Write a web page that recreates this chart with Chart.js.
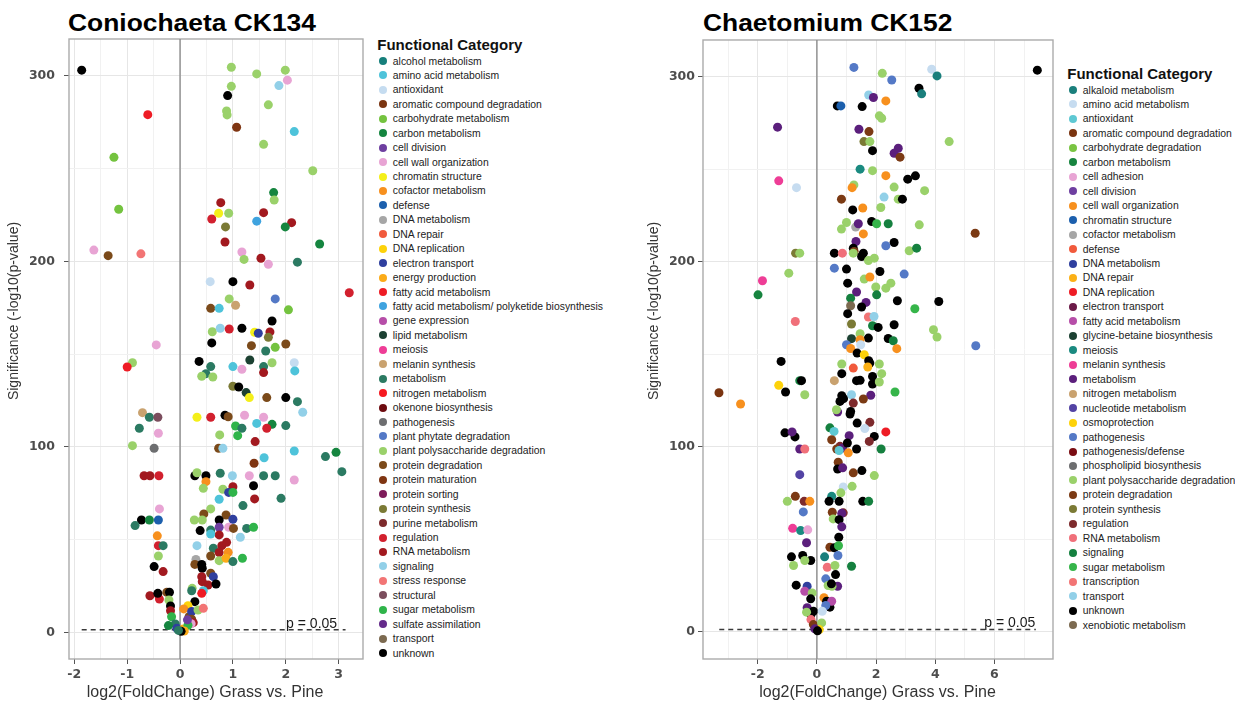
<!DOCTYPE html>
<html>
<head>
<meta charset="utf-8">
<script src="https://cdn.jsdelivr.net/npm/chart.js@4.4.1/dist/chart.umd.min.js"></script>
<style>
body { margin: 0; background: #fff; width: 1235px; height: 702px; overflow: hidden; position: relative; font-family: 'Liberation Sans', Arial, sans-serif; }
canvas { position: absolute; top: 0; }
.title { position: absolute; top: 11px; font-weight: bold; font-size: 24px; line-height: 1; color: #000; transform: scaleX(1.1); transform-origin: left; white-space: nowrap; }
.legend-title { position: absolute; font-weight: bold; font-size: 15px; line-height: 1; color: #111; white-space: nowrap; }
.item { position: absolute; height: 14px; display: flex; align-items: center; font-size: 10.4px; color: #222; white-space: nowrap; }
.dot { width: 8px; height: 8px; border-radius: 50%; margin-right: 5.5px; flex: none; }
</style>
</head>
<body>
<div class="title" style="left:68px">Coniochaeta CK134</div>
<div class="title" style="left:703px">Chaetomium CK152</div>
<canvas id="coniChart" width="370" height="702" style="left:0px"></canvas>
<canvas id="chaeChart" width="440" height="702" style="left:620px"></canvas>
<div id="coniLegend"></div>
<div id="chaeLegend"></div>
<script>
const yTicks = [0, 50, 100, 150, 200, 250, 300];
const yLabels = [0, 100, 200, 300];
const coniXTicks = [-2, -1.5, -1, -0.5, 0, 0.5, 1, 1.5, 2, 2.5, 3];
const coniXLabels = [-2, -1, 0, 1, 2, 3];
const chaeXTicks = [-3, -2, -1, 0, 1, 2, 3, 4, 5, 6, 7];
const chaeXLabels = [-2, 0, 2, 4, 6];
const pCutoff = 1.301;

const coniCategories = ['alcohol metabolism', 'amino acid metabolism', 'antioxidant', 'aromatic compound degradation',
    'carbohydrate metabolism', 'carbon metabolism', 'cell division', 'cell wall organization', 'chromatin structure',
    'cofactor metabolism', 'defense', 'DNA metabolism', 'DNA repair', 'DNA replication', 'electron transport',
    'energy production', 'fatty acid metabolism', 'fatty acid metabolism/ polyketide biosynthesis', 'gene expression',
    'lipid metabolism', 'meiosis', 'melanin synthesis', 'metabolism', 'nitrogen metabolism', 'okenone biosynthesis',
    'pathogenesis', 'plant phytate degradation', 'plant polysaccharide degradation', 'protein degradation',
    'protein maturation', 'protein sorting', 'protein synthesis', 'purine metabolism', 'regulation', 'RNA metabolism',
    'signaling', 'stress response', 'structural', 'sugar metabolism', 'sulfate assimilation', 'transport', 'unknown'];
const coniColors = ['#167f7b', '#4ec3da', '#c5dcf0', '#7a3410', '#74c33f', '#15853f', '#6e3fa0', '#e8a4d4', '#f4ef1a',
    '#f7901e', '#1c5fad', '#a6a6a6', '#f15a3c', '#fdd20a', '#2f3f9e', '#fbab18', '#ee1c25', '#3fa3df', '#b64ea8',
    '#1c4132', '#ee3d96', '#c9a26f', '#2b7a62', '#f51920', '#6d0b10', '#6d6e70', '#5479c6', '#9ad16a', '#7b4a1a',
    '#7f3512', '#7e1c5a', '#7b7a35', '#7d2a2c', '#d2202e', '#a2191f', '#92d0e8', '#f27575', '#7b4d5d', '#2fb44a',
    '#642a8a', '#7c6a50', '#000000'];

// [log2FC, -log10(p), category index]
const coniPoints = [
    [-1.86, 303, 41], [-0.61, 279, 16], [-1.25, 256, 4], [0.97, 304.6, 27], [1.45, 301, 27], [1.99, 303, 27],
    [1.87, 294.7, 35], [2.03, 297.6, 7], [0.97, 294.3, 27], [0.90, 289.3, 41], [1.67, 284.3, 27], [0.88, 281, 27],
    [0.89, 278.9, 27], [1.07, 272.2, 29], [2.16, 269.9, 1], [1.58, 263, 27], [2.51, 248.8, 27], [1.77, 237, 5],
    [1.78, 233, 27], [-1.16, 228, 4], [0.77, 231.6, 34], [0.73, 225.9, 8], [0.92, 225.9, 27], [0.60, 222.8, 33],
    [1.58, 226.2, 34], [1.45, 221.6, 17], [2.11, 220.8, 34], [1.99, 218.5, 5], [0.86, 218.5, 31], [0.85, 210.4, 34],
    [2.64, 209.3, 5], [-1.63, 206, 7], [-1.36, 203, 28], [-0.74, 204, 36], [1.17, 205, 7], [1.21, 201, 27],
    [1.53, 201.6, 34], [1.67, 198.4, 7], [2.22, 199.5, 22], [0.57, 189, 2], [1.0, 189, 41], [1.32, 187.2, 34],
    [3.20, 183, 33], [0.93, 179.7, 27], [1.80, 179.7, 26], [0.58, 174.6, 28], [0.74, 174.6, 1], [1.05, 176.3, 21],
    [2.05, 173.8, 4], [1.74, 167.8, 41], [0.61, 162, 27], [0.76, 163.9, 35], [0.93, 163.5, 33], [1.17, 163.9, 41],
    [1.41, 161.7, 8], [1.48, 161.2, 14], [1.70, 161.9, 34], [1.67, 159, 31], [0.60, 156, 41], [1.35, 154.5, 28],
    [1.80, 153.6, 4], [2.0, 155.4, 28], [-0.45, 154.9, 7], [1.62, 151.6, 22], [0.36, 146, 41], [0.58, 143.2, 22],
    [1.32, 146.8, 19], [1.0, 143.2, 1], [1.17, 141.8, 7], [1.58, 143.2, 22], [1.58, 140, 34], [1.74, 145.3, 27],
    [2.16, 145.3, 2], [2.17, 140.9, 1], [-0.90, 145.3, 27], [-1.0, 143, 16], [0.49, 139.4, 22], [0.41, 138, 27],
    [0.62, 137.6, 27], [1.0, 132.6, 31], [1.11, 132.2, 41], [1.25, 129.2, 19], [1.31, 126.5, 8], [1.64, 126.5, 28],
    [2.0, 126.5, 41], [2.22, 124.3, 22], [2.32, 118.6, 35], [-0.71, 118.4, 21], [-0.58, 115.9, 22], [-0.42, 115.9, 37],
    [0.32, 115.9, 8], [0.58, 115.9, 33], [0.85, 117, 41], [0.91, 116.2, 28], [1.22, 117, 7], [1.58, 115.9, 7],
    [1.45, 112.6, 1], [1.74, 112.1, 5], [2.0, 111.4, 22], [-0.77, 110, 22], [1.05, 111.2, 38], [1.17, 110, 22],
    [1.64, 110, 33], [-0.41, 107.3, 7], [-0.90, 100.6, 27], [-0.49, 99.2, 25], [0.75, 106.4, 27], [1.09, 106, 38],
    [1.42, 102.8, 34], [0.73, 99.2, 28], [0.81, 99.2, 35], [1.59, 94.1, 1], [2.16, 97.7, 1], [2.75, 94.7, 22],
    [2.95, 97, 5], [3.06, 86.6, 22], [1.40, 91.1, 29], [-0.68, 84.4, 34], [-0.57, 84.4, 34], [-0.40, 84.4, 33],
    [0.28, 84.4, 41], [0.32, 86, 27], [0.49, 84.4, 41], [0.49, 81.2, 9], [0.44, 77.6, 27], [0.76, 85.7, 22],
    [0.99, 84.4, 35], [1.31, 84.4, 7], [1.58, 84.4, 22], [1.80, 84.4, 22], [2.16, 82.1, 7], [0.81, 77.1, 27],
    [1.0, 78.5, 34], [1.39, 79, 41], [0.92, 75.4, 14], [1.0, 75.4, 38], [0.74, 71.7, 1], [1.41, 71.9, 34],
    [1.91, 72.2, 22], [1.19, 68.3, 22], [0.58, 66.5, 27], [-0.39, 66.5, 7], [0.45, 63.8, 28], [0.87, 63.2, 28],
    [-0.73, 60.5, 41], [-0.58, 60.5, 5], [-0.41, 60.5, 10], [-0.85, 57.5, 22], [0.27, 60.5, 27], [0.42, 60.5, 27],
    [0.74, 60.5, 41], [1.0, 60.9, 14], [0.38, 54.8, 41], [0.58, 55.1, 22], [0.74, 56.6, 6], [0.92, 56.6, 7],
    [1.01, 56, 28], [1.26, 56, 22], [1.39, 56.6, 38], [0.74, 52.5, 34], [1.14, 51.2, 35], [0.58, 53, 1],
    [-0.43, 52, 9], [-0.41, 46.7, 33], [-0.32, 46.7, 22], [-0.41, 41.1, 27], [0.32, 46.7, 35], [0.63, 45.3, 22],
    [0.79, 46.7, 34], [0.88, 48.5, 34], [0.74, 43, 34], [0.58, 41.1, 28], [0.91, 43.1, 9], [0.74, 38.6, 27],
    [0.87, 39.9, 15], [1.0, 38.1, 22], [1.18, 39.9, 38], [0.30, 39.3, 11], [0.28, 36.6, 28], [0.41, 36.6, 41],
    [0.42, 34.5, 41], [-0.49, 35.4, 41], [-0.32, 32.7, 34], [0.41, 30, 34], [0.42, 27.3, 34], [0.53, 25.5, 34],
    [0.58, 31.8, 28], [0.63, 30, 14], [0.68, 26, 41], [0.44, 22.4, 1], [0.41, 21, 16], [0.23, 23.7, 27],
    [0.22, 22.4, 22], [-0.57, 19.7, 34], [-0.42, 20.6, 34], [-0.39, 17.9, 33], [-0.42, 21, 41], [-0.25, 21.6, 28],
    [-0.20, 21.6, 41], [-0.21, 17.4, 27], [-0.18, 14.2, 41], [-0.18, 11.6, 34], [-0.16, 8.4, 38], [-0.09, 4.5, 22],
    [-0.22, 3.6, 5], [-0.06, 2.2, 14], [0.06, 1.8, 15], [0.28, 16.5, 41], [0.15, 14.3, 13], [0.07, 12.6, 9],
    [0.17, 8.4, 28], [0.22, 11.2, 14], [0.34, 12, 27], [0.22, 7, 28], [0.25, 5.2, 34], [0.21, 4.6, 7],
    [0.44, 12.9, 36], [0.15, 3.8, 38], [0.14, 6.7, 6], [0.08, 0.7, 15], [0.02, 0.5, 41], [-0.03, 1, 22]
];

const chaeCategories = ['alkaloid metabolism', 'amino acid metabolism', 'antioxidant', 'aromatic compound degradation',
    'carbohydrate degradation', 'carbon metabolism', 'cell adhesion', 'cell division', 'cell wall organization',
    'chromatin structure', 'cofactor metabolism', 'defense', 'DNA metabolism', 'DNA repair', 'DNA replication',
    'electron transport', 'fatty acid metabolism', 'glycine-betaine biosynthesis', 'meiosis', 'melanin synthesis',
    'metabolism', 'nitrogen metabolism', 'nucleotide metabolism', 'osmoprotection', 'pathogenesis',
    'pathogenesis/defense', 'phospholipid biosynthesis', 'plant polysaccharide degradation', 'protein degradation',
    'protein synthesis', 'regulation', 'RNA metabolism', 'signaling', 'sugar metabolism', 'transcription',
    'transport', 'unknown', 'xenobiotic metabolism'];
const chaeColors = ['#1a7f7c', '#c6dcf0', '#5ec8d3', '#7a3410', '#79c442', '#17843f', '#e8a4d4', '#6e3fa0', '#f7901e',
    '#1c5fad', '#a6a6a6', '#f15a3c', '#2f3f9e', '#fbb016', '#ee1c25', '#6b1a48', '#b64ea8', '#1c4132', '#1a8a80',
    '#ee3d96', '#5b1f7c', '#c9a26f', '#5343a4', '#fdd20a', '#5479c6', '#7a0c12', '#6d6e70', '#9ad16a', '#7b3a14',
    '#7b7a35', '#7d2a2c', '#f0707a', '#15803f', '#36b54a', '#f27575', '#92d0e8', '#000000', '#7c6a50'];

const chaePoints = [
    [1.25, 305, 24], [2.21, 301.8, 27], [2.53, 298.2, 24], [3.88, 304, 1], [4.06, 300.4, 0], [7.45, 303.5, 36],
    [3.45, 293.7, 36], [3.54, 290.7, 0], [1.75, 290.1, 35], [1.91, 288.7, 20], [2.33, 286.9, 8], [0.69, 284.2, 36],
    [0.81, 284.2, 9], [1.53, 283.8, 36], [2.11, 278.8, 27], [2.19, 277.5, 27], [-1.33, 272.7, 20], [1.42, 271.6, 20],
    [1.76, 270.3, 28], [1.59, 264.9, 29], [1.79, 264.9, 27], [4.47, 264.9, 27], [1.88, 260, 36], [2.75, 261.3, 20],
    [2.61, 258.6, 20], [2.81, 256.5, 28], [1.46, 250, 18], [1.88, 249.2, 27], [2.33, 246.5, 8], [3.07, 244.6, 36],
    [3.33, 246.4, 36], [-1.29, 243.7, 19], [-0.69, 240, 1], [1.25, 241.5, 27], [1.19, 240, 8], [2.61, 240.3, 27],
    [3.64, 238.4, 27], [0.83, 233.8, 28], [2.27, 234.9, 35], [2.75, 233.8, 27], [2.89, 233.8, 36], [1.55, 229, 8],
    [2.16, 229.3, 27], [1.21, 228, 36], [1.0, 221.2, 27], [0.83, 217.6, 27], [1.31, 218.7, 10], [1.40, 220.5, 20],
    [1.85, 221.7, 36], [2.02, 220.5, 33], [2.41, 220.5, 32], [3.46, 219.9, 27], [5.35, 215.4, 28], [1.57, 215, 8],
    [1.32, 210.9, 20], [1.23, 207.3, 36], [1.26, 205.5, 28], [2.61, 210.4, 36], [2.33, 208.6, 24], [3.12, 205.9, 27],
    [3.37, 207.3, 32], [-0.72, 204.6, 29], [-0.58, 204.6, 27], [0.59, 204.6, 36], [0.86, 204.6, 31], [1.23, 204.6, 27],
    [1.57, 204.6, 36], [1.51, 202.8, 36], [1.74, 200.6, 27], [1.94, 201.9, 27], [0.59, 196.5, 24], [1.0, 196, 36],
    [2.13, 194.7, 36], [2.95, 193.3, 24], [-1.84, 189.7, 19], [-0.95, 193.8, 27], [1.60, 190.6, 27], [1.79, 191.7, 8],
    [1.04, 188.4, 36], [1.99, 186.3, 27], [2.33, 185.7, 27], [2.50, 188.4, 27], [-1.99, 182.1, 5], [1.34, 183.6, 20],
    [1.14, 180.3, 32], [2.02, 182.1, 32], [1.66, 178, 20], [1.51, 175.5, 36], [2.72, 178.9, 36], [4.12, 178.5, 36],
    [3.31, 174.6, 33], [1.14, 176.2, 37], [1.04, 171.9, 36], [1.74, 170.1, 34], [1.93, 170.4, 35], [-0.73, 167.7, 31],
    [1.17, 166.3, 29], [1.88, 165.4, 32], [2.07, 164.5, 36], [2.61, 165.9, 36], [3.94, 163.2, 27], [4.06, 159.3, 27],
    [1.46, 161.1, 27], [1.17, 158.4, 17], [1.74, 158.7, 36], [2.41, 158.5, 36], [2.58, 157.3, 32], [1.46, 157.8, 8],
    [1.0, 155.1, 24], [1.48, 155.1, 1], [1.14, 153.1, 8], [2.70, 153, 8], [5.37, 154.6, 24], [1.36, 150.6, 36],
    [1.60, 149.7, 23], [1.79, 145.2, 36], [1.75, 146.5, 36], [1.72, 143.1, 13], [0.84, 144.7, 27], [2.11, 144.7, 27],
    [1.23, 142.5, 11], [2.19, 139.5, 27], [0.84, 139.5, 36], [-1.21, 146.1, 36], [0.59, 135.7, 21], [1.34, 135.7, 36],
    [1.46, 135.9, 36], [1.88, 138, 36], [1.88, 133.9, 36], [2.11, 135, 27], [-1.29, 133.2, 23], [-0.58, 135.7, 32],
    [-0.52, 135.7, 36], [-1.06, 129.6, 36], [-0.41, 128.1, 27], [-3.31, 129.2, 3], [-2.58, 123.1, 8], [2.64, 129.6, 33],
    [1.17, 128.1, 35], [1.82, 127.8, 20], [0.84, 127.6, 36], [0.78, 124.5, 36], [0.90, 126, 36], [1.57, 125.8, 28],
    [1.23, 123.6, 30], [1.14, 119.1, 36], [1.12, 117.7, 36], [0.70, 118.8, 20], [0.66, 120, 27], [1.36, 112.8, 36],
    [1.79, 113.2, 30], [2.33, 108, 14], [1.62, 109.8, 1], [0.44, 110.2, 32], [0.58, 108.3, 2], [-1.08, 107.5, 36],
    [-0.74, 105.3, 36], [-0.84, 108, 20], [1.94, 105.6, 36], [1.09, 106, 20], [-0.58, 98.8, 20], [-0.41, 98.8, 31],
    [0.50, 103.8, 28], [0.78, 100.2, 30], [0.67, 98.8, 28], [0.87, 99.3, 20], [0.75, 98, 2], [1.03, 102, 36],
    [1.06, 96.7, 8], [1.34, 98.8, 36], [1.77, 102.9, 30], [2.17, 98.8, 32], [0.72, 91.6, 28], [0.70, 88, 36],
    [0.87, 88.6, 20], [1.23, 85.9, 28], [1.52, 87.1, 36], [1.94, 84.4, 27], [-0.58, 84.9, 22], [0.89, 78.3, 1],
    [1.19, 78.6, 27], [0.81, 75.1, 27], [-1.0, 70.5, 27], [-0.73, 73.2, 28], [-0.43, 70.5, 30], [-0.24, 70.5, 8],
    [0.50, 73.2, 18], [0.41, 70.5, 36], [0.75, 70.5, 36], [1.55, 70.5, 36], [1.75, 70.5, 32], [-0.46, 64.8, 24],
    [0.52, 64.6, 28], [0.89, 64.3, 30], [0.84, 64, 20], [0.55, 61, 27], [0.75, 60.6, 36], [0.84, 56.7, 20],
    [-0.82, 55.9, 19], [-0.55, 54.7, 18], [-0.31, 55.1, 6], [-0.35, 48.1, 20], [0.74, 51.1, 36], [0.44, 45.7, 28],
    [0.59, 45.4, 36], [0.73, 46.5, 33], [0.71, 41.2, 24], [0.26, 40.5, 0], [-0.86, 40.5, 36], [-0.48, 41.2, 36],
    [-0.21, 38.5, 36], [-0.79, 35.8, 27], [-0.41, 38.5, 27], [0.35, 34.9, 31], [0.61, 35.8, 27], [1.17, 35.4, 32],
    [0.63, 30.9, 36], [0.30, 28.6, 24], [0.70, 24.6, 20], [0.51, 24.6, 27], [0.38, 25, 27], [0.49, 25.9, 36],
    [-0.70, 25.2, 36], [-0.33, 24.6, 12], [-0.41, 21.9, 16], [-0.16, 21, 27], [-0.21, 17.8, 36], [0.24, 18.4, 8],
    [0.33, 16.5, 36], [0.44, 13.3, 36], [0.50, 16.5, 16], [0.30, 14.2, 24], [-0.33, 13, 20], [-0.12, 11.1, 36],
    [-0.20, 9.3, 36], [-0.35, 10.6, 27], [0.18, 11.1, 1], [-0.20, 6.6, 31], [-0.12, 3.9, 28], [0.16, 4.8, 27],
    [0.08, 1.2, 23], [-0.07, 1.6, 20], [0.02, 0.5, 36]
];

const FONT = '"Liberation Sans", Arial, sans-serif';

const decorPlugin = {
    id: 'decor',
    beforeDatasetsDraw(chart) {
        const {ctx, chartArea: a} = chart;
        ctx.save();
        ctx.strokeStyle = '#ababab';
        ctx.lineWidth = 1.4;
        ctx.strokeRect(a.left, a.top, a.right - a.left, a.bottom - a.top);
        ctx.restore();
    },
    afterDatasetsDraw(chart, args, opts) {
        const {ctx} = chart;
        const x = chart.scales.x;
        const y = chart.scales.y;
        ctx.save();
        ctx.fillStyle = '#1a1a1a';
        ctx.font = '14px ' + FONT;
        ctx.textAlign = 'right';
        ctx.textBaseline = 'alphabetic';
        ctx.fillText('p = 0.05', x.getPixelForValue(opts.pTextX), y.getPixelForValue(pCutoff) - 2);

        ctx.fillStyle = '#333';
        ctx.font = '16px ' + FONT;
        ctx.textAlign = 'center';
        ctx.fillText('log2(FoldChange) Grass vs. Pine', opts.xTitleX, 697);

        ctx.translate(opts.yTitleX, 311);
        ctx.rotate(-Math.PI / 2);
        ctx.font = '14px ' + FONT;
        ctx.textBaseline = 'middle';
        ctx.fillText('Significance (-log10(p-value)', 0, 0);
        ctx.restore();
    }
};

function makeChart(id, cfg) {
    const datasets = [
        {
            data: cfg.points.map(p => ({x: p[0], y: p[1]})),
            backgroundColor: ctx => cfg.colors[cfg.points[ctx.dataIndex][2]],
            pointRadius: 4.5,
            pointHoverRadius: 4.5,
            borderWidth: 0,
            order: 1
        },
        {
            data: [{x: 0, y: cfg.yMin}, {x: 0, y: cfg.yMax}],
            showLine: true,
            borderColor: '#8c8c8c',
            borderWidth: 1.4,
            pointRadius: 0,
            order: 3
        },
        {
            data: [{x: cfg.pLine[0], y: pCutoff}, {x: cfg.pLine[1], y: pCutoff}],
            showLine: true,
            borderColor: '#3a3a3a',
            borderWidth: 1.5,
            borderDash: [5, 4],
            pointRadius: 0,
            order: 2
        }
    ];

    const tickFont = {family: 'DejaVu Sans', size: 12.5, weight: 'bold'};

    return new Chart(document.getElementById(id), {
        type: 'scatter',
        data: {datasets: datasets},
        options: {
            responsive: false,
            animation: false,
            layout: {padding: {left: 0, top: cfg.padTop, right: 7, bottom: 0}},
            plugins: {
                legend: {display: false},
                tooltip: {enabled: false},
                decor: {pTextX: cfg.pTextX, xTitleX: cfg.xTitleX, yTitleX: cfg.yTitleX}
            },
            scales: {
                x: {
                    type: 'linear',
                    min: cfg.xMin,
                    max: cfg.xMax,
                    afterBuildTicks: sc => { sc.ticks = cfg.xTicks.map(v => ({value: v})); },
                    afterFit: sc => { sc.height = 43; },
                    ticks: {
                        autoSkip: false,
                        maxRotation: 0,
                        padding: 3,
                        color: '#4d4d4d',
                        font: tickFont,
                        callback: v => cfg.xLabels.includes(v) ? String(v) : ''
                    },
                    grid: {
                        tickLength: 5,
                        color: ctx => cfg.xLabels.includes(ctx.tick && ctx.tick.value) ? '#e6e6e6' : '#f1f1f1',
                        tickColor: ctx => cfg.xLabels.includes(ctx.tick && ctx.tick.value) ? '#555' : 'rgba(0,0,0,0)'
                    },
                    border: {display: false}
                },
                y: {
                    type: 'linear',
                    min: cfg.yMin,
                    max: cfg.yMax,
                    afterBuildTicks: sc => { sc.ticks = yTicks.map(v => ({value: v})); },
                    afterFit: sc => { sc.width = cfg.axisWidth; },
                    ticks: {
                        padding: cfg.yLabelPad,
                        color: '#4d4d4d',
                        font: tickFont,
                        callback: v => yLabels.includes(v) ? String(v) : ''
                    },
                    grid: {
                        tickLength: 5,
                        color: ctx => yLabels.includes(ctx.tick && ctx.tick.value) ? '#e6e6e6' : '#f1f1f1',
                        tickColor: ctx => yLabels.includes(ctx.tick && ctx.tick.value) ? '#555' : 'rgba(0,0,0,0)'
                    },
                    border: {display: false}
                }
            }
        },
        plugins: [decorPlugin]
    });
}

function buildLegend(id, categories, colors, left, titleTop, firstY, step) {
    const box = document.getElementById(id);
    const title = document.createElement('div');
    title.className = 'legend-title';
    title.style.left = (left - 2) + 'px';
    title.style.top = titleTop + 'px';
    title.textContent = 'Functional Category';
    box.appendChild(title);

    categories.forEach((name, i) => {
        const item = document.createElement('div');
        item.className = 'item';
        item.style.left = left + 'px';
        item.style.top = (firstY + i * step - 7) + 'px';
        const dot = document.createElement('span');
        dot.className = 'dot';
        dot.style.background = colors[i];
        const label = document.createElement('span');
        label.textContent = name;
        item.appendChild(dot);
        item.appendChild(label);
        box.appendChild(item);
    });
}

makeChart('coniChart', {
    points: coniPoints, colors: coniColors,
    xMin: -2.1, xMax: 3.46, yMin: -14.4, yMax: 319.8,
    xTicks: coniXTicks, xLabels: coniXLabels,
    pLine: [-1.86, 3.13], pTextX: 2.97,
    padTop: 39, axisWidth: 69, yLabelPad: 9,
    xTitleX: 205, yTitleX: 14
});

makeChart('chaeChart', {
    points: chaePoints, colors: chaeColors,
    xMin: -3.85, xMax: 7.98, yMin: -14.7, yMax: 319.8,
    xTicks: chaeXTicks, xLabels: chaeXLabels,
    pLine: [-3.3, 7.4], pTextX: 7.38,
    padTop: 40, axisWidth: 83, yLabelPad: 3,
    xTitleX: 257.5, yTitleX: 34
});

buildLegend('coniLegend', coniCategories, coniColors, 379.3, 37.3, 61, 14.44);
buildLegend('chaeLegend', chaeCategories, chaeColors, 1069.3, 65.5, 90, 14.46);
</script>
</body>
</html>
